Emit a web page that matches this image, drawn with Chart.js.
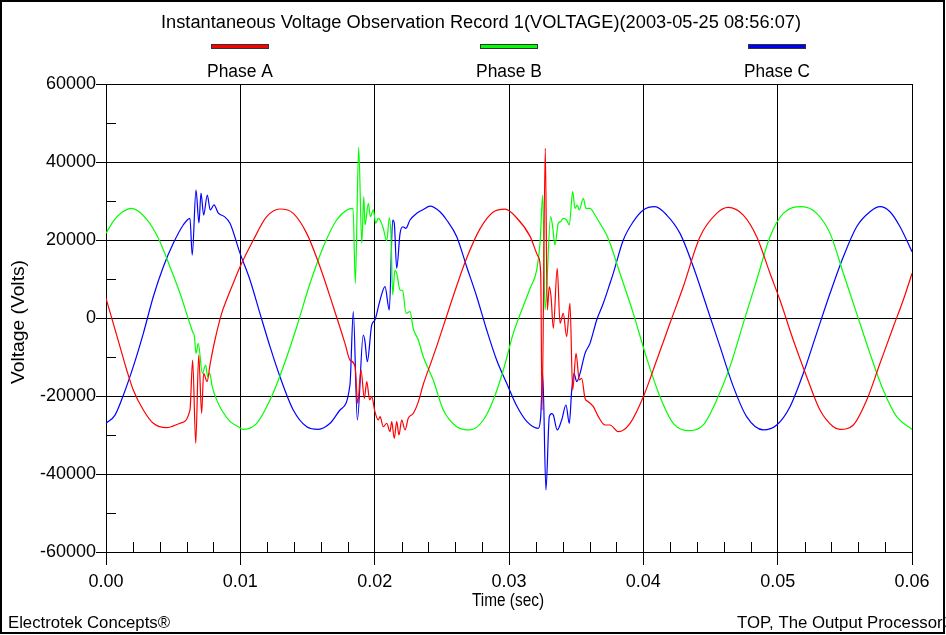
<!DOCTYPE html>
<html>
<head>
<meta charset="utf-8">
<script src="https://cdn.jsdelivr.net/npm/chart.js@4.4.1/dist/chart.umd.min.js"></script>
<style>
  html, body { margin: 0; padding: 0; background: #fff; }
  #wrap { width: 946px; height: 635px; position: relative; }
</style>
</head>
<body>
<div id="wrap"><canvas id="voltage-chart" width="946" height="635"></canvas></div>
<script>
'use strict';

// Phase A (red)
var timeA = [0, 0.00054, 0.00104, 0.00154, 0.00203, 0.00278, 0.00352, 0.00452, 0.00551, 0.00625,
    0.00645, 0.00668, 0.0069, 0.00712, 0.00727, 0.00752, 0.00776, 0.00811, 0.00861, 0.00899,
    0.00948, 0.00998, 0.01097, 0.01196, 0.01295, 0.01394, 0.01494, 0.01593, 0.01692, 0.01779,
    0.01816, 0.01854, 0.01874, 0.01898, 0.01923, 0.01941, 0.01963, 0.01978, 0.02002, 0.02027,
    0.0204, 0.02064, 0.0209, 0.02114, 0.02127, 0.02146, 0.02164, 0.02181, 0.02201, 0.02226,
    0.0225, 0.02288, 0.02325, 0.02362, 0.02412, 0.02462, 0.02531, 0.02611, 0.02685, 0.02784,
    0.02883, 0.02971, 0.03058, 0.03156, 0.03218, 0.03236, 0.03246, 0.0327, 0.03285, 0.033,
    0.03313, 0.0333, 0.03359, 0.0338, 0.03404, 0.03429, 0.03454, 0.03474, 0.03499, 0.03523,
    0.03541, 0.03566, 0.0359, 0.03628, 0.03665, 0.03715, 0.03752, 0.03814, 0.03901, 0.04,
    0.041, 0.04198, 0.04297, 0.04422, 0.04546, 0.04632, 0.04744, 0.04844, 0.04943, 0.05017,
    0.05116, 0.05216, 0.05315, 0.05414, 0.05464, 0.05563, 0.05663, 0.05762, 0.05861, 0.05935, 0.06];
var voltsA = [5050, -1360, -7350, -13330, -18460, -23590, -27000, -28120, -27000, -23600,
    -10770, -32130, -9490, -24430, -14180, -16300, -11620, -5640, 1200, 4800,
    9000, 13150, 20000, 25970, 27950, 26840, 21700, 13150, 2900, -6500,
    -10770, -12480, -21870, -13330, -20600, -16330, -21030, -20180, -24020, -26150,
    -25300, -27870, -26990, -29150, -26580, -30850, -26580, -30000, -26150, -28700,
    -25720, -24430, -21500, -17000, -12150, -7220, 0, 8280, 15360, 22840,
    27170, 27900, 25650, 21000, 15700, 11460, -23590, 43500, 2050, 8030,
    5460, -2640, 12740, -1360, 1200, -4790, 3770, -18460, -9060, -15900,
    -15460, -20590, -21460, -22740, -25300, -27430, -27430, -29150, -27000, -20180,
    -10770, -1360, 8030, 20850, 26840, 28380, 26400, 20850, 11460, 4600,
    -5640, -15050, -23590, -27870, -28540, -27430, -21030, -11620, -2230, 4600, 11400];

// Phase B (green)
var timeB = [0, 0.00054, 0.00119, 0.00191, 0.00303, 0.00389, 0.00476, 0.00551, 0.00625, 0.0065,
    0.00657, 0.0067, 0.00687, 0.00717, 0.00742, 0.00757, 0.00772, 0.00791, 0.00824, 0.00861,
    0.00923, 0.00985, 0.01022, 0.01122, 0.01221, 0.0132, 0.0142, 0.01519, 0.01618, 0.01717,
    0.018, 0.01839, 0.01856, 0.01881, 0.01904, 0.01919, 0.01928, 0.01953, 0.01968, 0.0199,
    0.02008, 0.02027, 0.0204, 0.02064, 0.0209, 0.02109, 0.02122, 0.02134, 0.02151, 0.02164,
    0.02189, 0.02209, 0.02233, 0.02263, 0.02288, 0.02325, 0.02362, 0.02436, 0.02511, 0.02611,
    0.0271, 0.02809, 0.02883, 0.02958, 0.03032, 0.03106, 0.03156, 0.03206, 0.03231, 0.03251,
    0.03268, 0.0331, 0.03325, 0.03342, 0.03367, 0.03385, 0.03404, 0.03429, 0.03449, 0.03474,
    0.03491, 0.03508, 0.03523, 0.03553, 0.03573, 0.03603, 0.0364, 0.03677, 0.03727, 0.03752,
    0.03826, 0.03925, 0.04025, 0.04124, 0.04223, 0.04347, 0.04446, 0.04546, 0.04645, 0.04744,
    0.04844, 0.04943, 0.05042, 0.05179, 0.0529, 0.0539, 0.05489, 0.05588, 0.05687, 0.05786,
    0.05886, 0.06];
var voltsB = [21700, 24800, 27100, 28120, 25300, 20500, 13150, 6330, -1500, -3930,
    -4360, -9060, -6500, -14180, -12050, -15050, -14180, -17600, -21000, -23600,
    -26500, -27870, -28540, -27000, -21030, -12480, -2230, 8900, 18280, 25130,
    27800, 28100, 8900, 43770, 19150, 31100, 23850, 29400, 25970, 27700,
    24280, 25560, 25130, 23000, 19800, 25700, 20850, 5900, 12300, 11460,
    7180, 7000, 1200, 1620, -2800, -5640, -9920, -15900, -23600, -27870,
    -28700, -26150, -21030, -13330, -3930, 3000, 7500, 12300, 19150, 31540,
    2050, 25970, 23400, 18720, 24280, 24700, 25560, 25130, 23850, 32390,
    28130, 28970, 27700, 30690, 28130, 28130, 26400, 24280, 21280, 19150,
    11460, 1200, -10300, -20180, -27000, -28890, -27430, -21030, -12480, -1360,
    9740, 20850, 26840, 28540, 26840, 21700, 11460, 1200, -9060, -18460,
    -25300, -28540];

// Phase C (blue)
var timeC = [0, 0.00067, 0.00129, 0.00203, 0.00278, 0.00352, 0.00427, 0.00501, 0.00575, 0.00625,
    0.00642, 0.0067, 0.00692, 0.00707, 0.00727, 0.00754, 0.00776, 0.00804, 0.00836, 0.00881,
    0.00923, 0.00998, 0.01072, 0.01146, 0.01221, 0.01295, 0.01394, 0.01494, 0.0158, 0.01668,
    0.01742, 0.01816, 0.01841, 0.01871, 0.01915, 0.01928, 0.01945, 0.01978, 0.02002, 0.0204,
    0.02077, 0.02109, 0.02134, 0.02146, 0.02164, 0.02189, 0.02209, 0.02233, 0.02263, 0.02313,
    0.02362, 0.02412, 0.02486, 0.02536, 0.02611, 0.02685, 0.0276, 0.02834, 0.02908, 0.02983,
    0.03057, 0.03132, 0.03218, 0.03236, 0.03251, 0.03275, 0.033, 0.03318, 0.0333, 0.03359,
    0.03392, 0.03424, 0.03449, 0.03467, 0.03484, 0.03504, 0.03529, 0.03566, 0.03603, 0.03653,
    0.03702, 0.03752, 0.03776, 0.03851, 0.03925, 0.04, 0.04087, 0.04174, 0.04273, 0.04372,
    0.04472, 0.04571, 0.0467, 0.04769, 0.04893, 0.04993, 0.05092, 0.05191, 0.0529, 0.0539,
    0.05489, 0.05588, 0.05687, 0.05762, 0.05836, 0.05911, 0.06];
var voltsC = [-27000, -24900, -19800, -12480, -3930, 5460, 13150, 19150, 23850, 25560,
    16150, 32800, 24360, 32050, 26400, 31540, 27700, 29000, 26900, 26000,
    24280, 16580, 9740, 1200, -7350, -15050, -23590, -27870, -28540, -27000,
    -23590, -17180, 1620, -26150, -4360, -6070, -11200, -1800, -510, 4600,
    8030, 2050, 25130, 24300, 12740, 21700, 23400, 23000, 25130, 26840,
    27800, 28700, 27250, 25130, 20850, 13150, 5460, -3080, -10770, -16740,
    -22500, -26500, -28280, -25300, -14180, -44100, -25300, -24500, -24870, -28700,
    -26150, -22310, -27000, -18460, -14180, -16330, -14180, -9060, -6500, -510,
    3770, 8900, 11460, 20000, 24700, 27700, 28540, 26400, 21700, 13150,
    2900, -7350, -17600, -25300, -28700, -27430, -22740, -14180, -3930, 6330,
    15700, 23400, 27250, 28540, 27250, 23400, 17000];

var seriesNames = ['Phase A', 'Phase B', 'Phase C'];
var seriesColors = ['#FF0000', '#00FF00', '#0000FF'];
var xTicks = [0, 0.01, 0.02, 0.03, 0.04, 0.05, 0.06];
var yTicks = [-60000, -40000, -20000, 0, 20000, 40000, 60000];

var chartTitle = 'Instantaneous Voltage Observation Record 1(VOLTAGE)(2003-05-25 08:56:07)';
var xTitle = 'Time (sec)';
var yTitle = 'Voltage (Volts)';
var footLeft = 'Electrotek Concepts\u00AE';
var footRight = 'TOP, The Output Processor\u00AE';

var FONT = '"Liberation Sans", Arial, sans-serif';

function toPoints(t, v) {
    return t.map(function (x, i) { return { x: x, y: v[i] }; });
}

// draws text squeezed/stretched to a given width, like the narrow original
function fitText(ctx, txt, x, y, w, align) {
    var m = ctx.measureText(txt).width;
    ctx.save();
    ctx.translate(x, y);
    ctx.scale(w / m, 1);
    ctx.textAlign = align;
    ctx.fillText(txt, 0, 0);
    ctx.restore();
}

var decorPlugin = {
    id: 'decor',
    beforeDraw: function (chart) {
        var ctx = chart.ctx;
        ctx.save();
        ctx.fillStyle = '#fff';
        ctx.fillRect(0, 0, chart.width, chart.height);
        ctx.restore();
    },
    afterDatasetsDraw: function (chart) {
        var ctx = chart.ctx;
        var xs = chart.scales.x, ys = chart.scales.y;
        var area = chart.chartArea;
        ctx.save();
        ctx.strokeStyle = '#000';
        ctx.lineWidth = 1;
        ctx.beginPath();
        // minor ticks on y
        [-50000, -30000, -10000, 10000, 30000, 50000].forEach(function (v) {
            var py = Math.round(ys.getPixelForValue(v)) + 0.5;
            ctx.moveTo(area.left, py);
            ctx.lineTo(area.left + 10, py);
        });
        // minor ticks on x
        for (var i = 1; i < 30; i++) {
            if (i % 5 === 0) continue;
            var px = Math.round(xs.getPixelForValue(i * 0.002)) + 0.5;
            ctx.moveTo(px, area.bottom);
            ctx.lineTo(px, area.bottom - 10);
        }
        ctx.stroke();
        ctx.restore();
    },
    afterDraw: function (chart) {
        var ctx = chart.ctx;
        ctx.save();
        ctx.fillStyle = '#000';
        ctx.textBaseline = 'alphabetic';

        ctx.font = '18px ' + FONT;
        fitText(ctx, chartTitle, 481, 28, 640, 'center');

        // legend
        var legendX = [240, 509, 777];
        seriesNames.forEach(function (name, i) {
            ctx.fillStyle = seriesColors[i];
            ctx.fillRect(legendX[i] - 29, 44, 58, 5);
            ctx.strokeStyle = '#333';
            ctx.lineWidth = 1;
            ctx.strokeRect(legendX[i] - 29 + 0.5, 44 + 0.5, 57, 4);
            ctx.fillStyle = '#000';
            ctx.font = '18px ' + FONT;
            fitText(ctx, name, legendX[i], 77, 66, 'center');
        });

        ctx.font = '18px ' + FONT;
        fitText(ctx, xTitle, 508, 606, 72, 'center');

        ctx.save();
        ctx.translate(24, 322);
        ctx.rotate(-Math.PI / 2);
        fitText(ctx, yTitle, 0, 0, 124, 'center');
        ctx.restore();

        ctx.font = '17px ' + FONT;
        fitText(ctx, footLeft, 8, 628, 162, 'left');
        fitText(ctx, footRight, 737, 628, 218, 'left');

        // outer frame
        ctx.strokeStyle = '#000';
        ctx.lineWidth = 2;
        ctx.strokeRect(1, 1, 943, 632);
        ctx.restore();
    }
};

var datasets = [
    toPoints(timeA, voltsA),
    toPoints(timeB, voltsB),
    toPoints(timeC, voltsC)
].map(function (pts, i) {
    return {
        label: seriesNames[i],
        data: pts,
        borderColor: seriesColors[i],
        backgroundColor: seriesColors[i],
        borderWidth: 1.2,
        pointRadius: 0,
        fill: false,
        cubicInterpolationMode: 'monotone'
    };
});

var tickFont = { family: FONT, size: 18 };

var voltageChart = new Chart(document.getElementById('voltage-chart'), {
    type: 'line',
    data: { datasets: datasets },
    options: {
        responsive: false,
        animation: false,
        events: [],
        layout: { padding: { top: 84, right: 34, bottom: 0, left: 0 } },
        scales: {
            x: {
                type: 'linear',
                min: 0,
                max: 0.06,
                afterBuildTicks: function (scale) {
                    scale.ticks = xTicks.map(function (v) { return { value: v }; });
                },
                afterFit: function (scale) { scale.height = 83; },
                ticks: {
                    color: '#000',
                    font: tickFont,
                    padding: 6,
                    maxRotation: 0,
                    autoSkip: false,
                    callback: function (v) { return Number(v).toFixed(2); }
                },
                grid: { color: '#000', lineWidth: 1, tickLength: 13 },
                border: { color: '#000', width: 1 }
            },
            y: {
                type: 'linear',
                min: -60000,
                max: 60000,
                afterBuildTicks: function (scale) {
                    scale.ticks = yTicks.map(function (v) { return { value: v }; });
                },
                afterFit: function (scale) { scale.width = 106; },
                ticks: {
                    color: '#000',
                    font: tickFont,
                    padding: 0,
                    autoSkip: false,
                    callback: function (v) { return String(v); }
                },
                grid: { color: '#000', lineWidth: 1, tickLength: 10 },
                border: { color: '#000', width: 1 }
            }
        },
        plugins: {
            legend: { display: false },
            title: { display: false },
            tooltip: { enabled: false }
        }
    },
    plugins: [decorPlugin]
});
</script>
</body>
</html>
